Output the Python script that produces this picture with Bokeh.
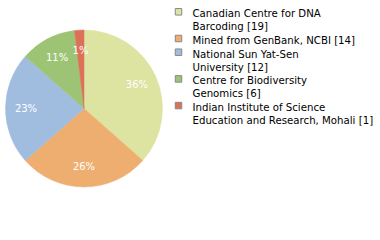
import math
from bokeh.plotting import figure
from bokeh.models import ColumnDataSource, Range1d
from bokeh.core.properties import value
from bokeh.embed import file_html
from bokeh.resources import INLINE

# ---- data ----
names = [
    "Canadian Centre for DNA\nBarcoding",
    "Mined from GenBank, NCBI",
    "National Sun Yat-Sen\nUniversity",
    "Centre for Biodiversity\nGenomics",
    "Indian Institute of Science\nEducation and Research, Mohali",
]
counts = [19, 14, 12, 6, 1]
colors = ["#dde3a0", "#eeae70", "#a0bde0", "#9dc474", "#dd7058"]

W, H = 380, 240
p = figure(width=W, height=H, output_backend="svg", toolbar_location=None,
           x_range=Range1d(0, W), y_range=Range1d(0, H),
           x_axis_location=None, y_axis_location=None, min_border=0)
p.grid.visible = False
p.outline_line_color = None
p.background_fill_color = "white"
p.border_fill_color = "white"

cx, cy, R = 83.5, H - 108, 78.5
total = sum(counts)
starts, ends, lx, ly, labs = [], [], [], [], []
acc = 0.0
for c in counts:
    a0 = math.pi / 2 - 2 * math.pi * acc / total
    a1 = math.pi / 2 - 2 * math.pi * (acc + c) / total
    starts.append(a0)
    ends.append(a1)
    mid = (a0 + a1) / 2
    lx.append(cx + 58 * math.cos(mid))
    ly.append(cy + 58 * math.sin(mid))
    labs.append(f"{int(100 * c / total)}%")
    acc += c

src = ColumnDataSource(dict(start=starts, end=ends, color=colors))
p.wedge(x=cx, y=cy, radius=R, start_angle="start", end_angle="end",
        direction="clock", fill_color="color", line_color="color",
        line_width=0.5, source=src)
p.text(x=lx, y=ly, text=labs, text_color="white", text_align="center",
       text_baseline="middle", text_font=value("DejaVu Sans"),
       text_font_size="10px")

# ---- legend ----
sq_x, sq_y, tx, ty = [], [], [], []
ttext = []
line_i = 0
for i, (n, c) in enumerate(zip(names, counts)):
    lines = f"{n} [{c}]".split("\n")
    base = 13.3 + 13 * line_i + 0.7 * i
    sq_x.append(178)
    sq_y.append(H - (base - 2))
    for j, ln in enumerate(lines):
        tx.append(192)
        ty.append(H - (base + 13 * j))
        ttext.append(ln)
    line_i += len(lines)

p.rect(x=sq_x, y=sq_y, width=6.5, height=6.5, fill_color=colors,
       line_color="#888888", line_width=1)
p.text(x=tx, y=ty, text=ttext, text_color="black", text_align="left",
       text_baseline="alphabetic", text_font=value("DejaVu Sans"),
       text_font_size="10.2px")

open("out.html", "w").write(file_html(p, INLINE))
